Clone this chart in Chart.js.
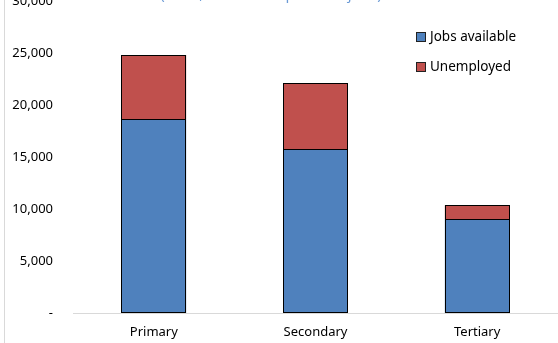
<!DOCTYPE html>
<html>
<head>
<meta charset="utf-8">
<script src="https://cdn.jsdelivr.net/npm/chart.js@4/dist/chart.umd.min.js"></script>
<style>
  html, body { margin: 0; padding: 0; background: #fff; }
  #wrap { width: 558px; height: 343px; position: relative; overflow: hidden; }
</style>
</head>
<body>
<div id="wrap"><canvas id="c" width="558" height="343"></canvas></div>
<script>
const categories = ["Primary", "Secondary", "Tertiary"];
const jobsAvailable = [18650, 15750, 9010];
const unemployed = [6150, 6370, 1350];
const seriesNames = ["Jobs available", "Unemployed"];
const yTicks = [0, 5000, 10000, 15000, 20000, 25000, 30000];
const titleText = "(2017, number of persons/jobs)";

const FONT = "'Noto Sans', 'Open Sans', sans-serif";
const colors = ["#4F81BD", "#C0504D"];

const decorPlugin = {
  id: 'decor',
  beforeDraw(chart) {
    const ctx = chart.ctx;
    ctx.save();
    ctx.fillStyle = '#ffffff';
    ctx.fillRect(0, 0, chart.width, chart.height);
    ctx.fillStyle = '#D9D9D9';
    ctx.fillRect(4, 0, 1, chart.height);
    ctx.restore();
  },
  afterDatasetsDraw(chart) {
    const ctx = chart.ctx;
    ctx.save();
    ctx.strokeStyle = '#000';
    ctx.lineWidth = 1;
    chart.data.datasets.forEach((ds, i) => {
      chart.getDatasetMeta(i).data.forEach(el => {
        const l = Math.round(el.x - el.width / 2) + 0.5;
        const r = Math.round(el.x + el.width / 2) - 0.5;
        const t = Math.round(el.y) + 0.5;
        const b = i === 0 ? Math.round(el.base) - 0.5 : Math.round(el.base) + 0.5;
        ctx.strokeRect(l, t, r - l, b - t);
      });
    });
    ctx.restore();
  },
  afterDraw(chart) {
    const ctx = chart.ctx;
    ctx.save();
    // title (cut off at the top)
    ctx.fillStyle = '#6C9BD6';
    ctx.font = "15px " + FONT;
    ctx.textAlign = 'center';
    ctx.textBaseline = 'alphabetic';
    ctx.fillText(titleText, 271, -1);
    // legend
    ctx.font = "13.5px " + FONT;
    ctx.textAlign = 'left';
    ctx.textBaseline = 'middle';
    const ys = [37, 67];
    chart.data.datasets.forEach((ds, i) => {
      ctx.fillStyle = ds.backgroundColor;
      ctx.fillRect(416.5, ys[i] - 4.5, 9, 9);
      ctx.strokeStyle = '#222';
      ctx.lineWidth = 1;
      ctx.strokeRect(416.5, ys[i] - 4.5, 9, 9);
      ctx.fillStyle = '#000';
      ctx.fillText(ds.label, 430, ys[i]);
    });
    ctx.restore();
  }
};

new Chart(document.getElementById('c'), {
  type: 'bar',
  data: {
    labels: categories,
    datasets: [
      { label: seriesNames[0], data: jobsAvailable, backgroundColor: colors[0],
        borderWidth: 0, barPercentage: 0.8, categoryPercentage: 0.5 },
      { label: seriesNames[1], data: unemployed, backgroundColor: colors[1],
        borderWidth: 0, barPercentage: 0.8, categoryPercentage: 0.5 }
    ]
  },
  options: {
    responsive: false,
    animation: false,
    devicePixelRatio: 1,
    layout: { padding: { top: 1, left: 0, right: 0, bottom: 0 } },
    plugins: { legend: { display: false }, title: { display: false }, tooltip: { enabled: false } },
    scales: {
      x: {
        stacked: true,
        grid: { display: false, drawTicks: false },
        border: { display: true, color: '#D9D9D9', width: 1 },
        ticks: { color: '#000', font: { family: FONT, size: 13 }, padding: 11 },
        afterFit(s) { s.height = 30; s.paddingLeft = 0; s.paddingRight = 0; }
      },
      y: {
        stacked: true,
        min: 0, max: 30000,
        afterBuildTicks(s) { s.ticks = yTicks.map(v => ({ value: v })); },
        grid: { display: false, drawTicks: false },
        border: { display: false },
        ticks: {
          color: '#000', font: { family: FONT, size: 13 }, padding: 20,
          callback: v => v === 0 ? '-' : v.toLocaleString('en-US')
        },
        afterFit(s) { s.width = 73; s.paddingTop = 0; s.paddingBottom = 0; }
      }
    }
  },
  plugins: [decorPlugin]
});
</script>
</body>
</html>
